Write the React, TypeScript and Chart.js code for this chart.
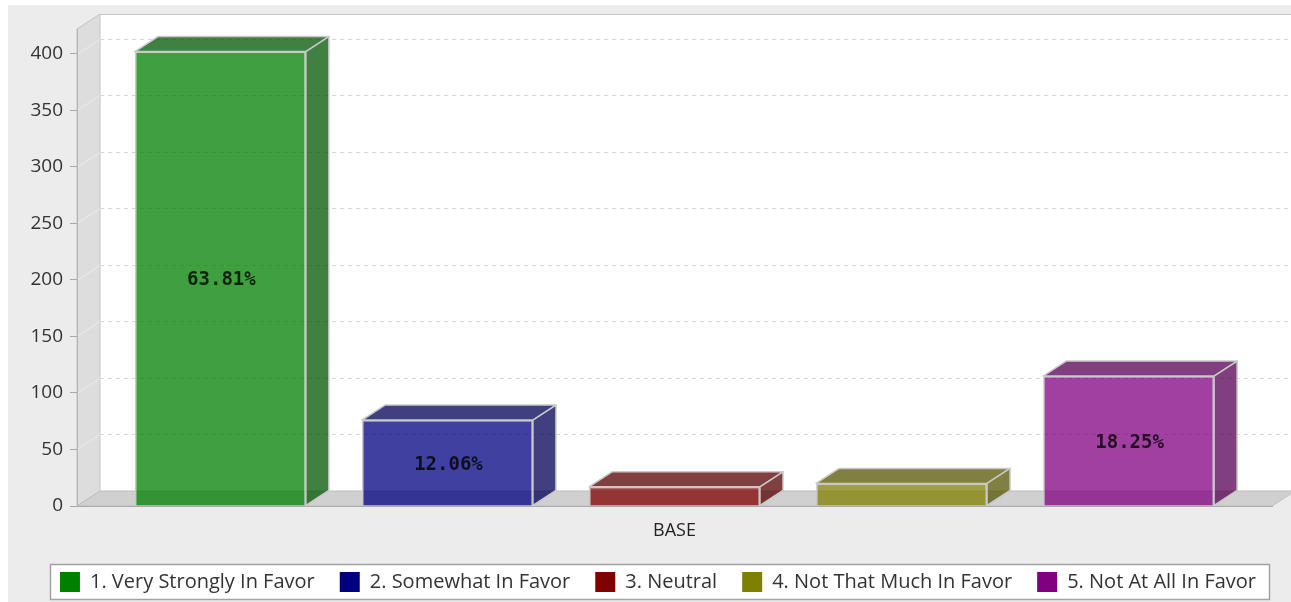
import { useEffect, useRef } from 'react';
import { Chart, registerables } from 'chart.js';

Chart.register(...registerables);

// Survey answers for the single "BASE" group
const categories = ['BASE'];
const seriesNames = [
  '1. Very Strongly In Favor',
  '2. Somewhat In Favor',
  '3. Neutral',
  '4. Not That Much In Favor',
  '5. Not At All In Favor',
];
const seriesValues = [402, 76, 17, 20, 115];
const seriesColors = [
  [0, 128, 0],
  [0, 0, 128],
  [128, 0, 0],
  [128, 128, 0],
  [128, 0, 128],
];
const yTickValues = [0, 50, 100, 150, 200, 250, 300, 350, 400];
const yMax = 422;

// Depth of the pseudo-3D extrusion (pixels)
const DX = 23;
const DY = 15;
const FACE_ALPHA = 0.75;
const EDGE = '#c9c9c9';
// horizontal nudge of the legend row relative to the full canvas width
const LEGEND_SHIFT = 18;

const total = seriesValues.reduce((a, b) => a + b, 0);

const rgba = (c: number[], a: number, k = 1) =>
  `rgba(${Math.round(c[0] * k)},${Math.round(c[1] * k)},${Math.round(c[2] * k)},${a})`;

const threeD = {
  id: 'threeD',
  afterLayout(chart: any) {
    const lg = chart.legend;
    if (lg) {
      lg.left += LEGEND_SHIFT;
      lg.right += LEGEND_SHIFT;
    }
  },
  beforeDraw(chart: any) {
    const { ctx, chartArea } = chart;
    const { left, right, top, bottom } = chartArea;
    const yScale = chart.scales.y;
    ctx.save();

    // back wall
    ctx.fillStyle = '#ffffff';
    ctx.fillRect(left + DX, top - DY, right - left, bottom - top);
    ctx.strokeStyle = '#c6c6c6';
    ctx.lineWidth = 1;
    ctx.beginPath();
    ctx.moveTo(left + DX, top - DY + 0.5);
    ctx.lineTo(right + DX, top - DY + 0.5);
    ctx.stroke();

    // left wall
    ctx.fillStyle = '#dddddd';
    ctx.beginPath();
    ctx.moveTo(left, top);
    ctx.lineTo(left + DX, top - DY);
    ctx.lineTo(left + DX, bottom - DY);
    ctx.lineTo(left, bottom);
    ctx.closePath();
    ctx.fill();
    ctx.strokeStyle = '#c4c4c4';
    ctx.stroke();

    // grid lines on the back wall and the left wall
    for (const v of yTickValues) {
      if (v === 0) continue;
      const py = Math.round(yScale.getPixelForValue(v)) + 0.5;
      ctx.setLineDash([4, 4]);
      ctx.strokeStyle = '#d6d6d6';
      ctx.beginPath();
      ctx.moveTo(left + DX, py - DY);
      ctx.lineTo(right + DX, py - DY);
      ctx.stroke();
      ctx.setLineDash([]);
      ctx.strokeStyle = '#ececec';
      ctx.beginPath();
      ctx.moveTo(left, py);
      ctx.lineTo(left + DX, py - DY);
      ctx.stroke();
    }

    // floor
    ctx.fillStyle = '#d0d0d0';
    ctx.strokeStyle = '#bdbdbd';
    ctx.beginPath();
    ctx.moveTo(left, bottom);
    ctx.lineTo(right, bottom);
    ctx.lineTo(right + DX, bottom - DY);
    ctx.lineTo(left + DX, bottom - DY);
    ctx.closePath();
    ctx.fill();
    ctx.stroke();

    // legend frame
    const hb = chart.legend && chart.legend.legendHitBoxes;
    if (hb && hb.length) {
      const first = hb[0];
      const last = hb[hb.length - 1];
      const cy = first.top + first.height / 2;
      const x0 = Math.round(first.left - 10) + 0.5;
      const x1 = Math.round(last.left + last.width + 13) + 0.5;
      const y0 = Math.round(cy - 18) + 0.5;
      const y1 = Math.round(cy + 17) + 0.5;
      ctx.fillStyle = '#ffffff';
      ctx.fillRect(x0, y0, x1 - x0, y1 - y0);
      ctx.strokeStyle = '#a2a2a2';
      ctx.lineWidth = 1.5;
      ctx.strokeRect(x0, y0, x1 - x0, y1 - y0);
    }
    ctx.restore();
  },
  afterDatasetsDraw(chart: any) {
    const { ctx } = chart;
    ctx.save();
    chart.data.datasets.forEach((ds: any, i: number) => {
      const meta = chart.getDatasetMeta(i);
      meta.data.forEach((bar: any, j: number) => {
        const { x, y, base, width } = bar.getProps(['x', 'y', 'base', 'width'], true);
        const l = x - width / 2;
        const r = x + width / 2;
        const c = seriesColors[i];
        ctx.lineWidth = 1.5;
        ctx.strokeStyle = EDGE;
        ctx.lineJoin = 'round';
        // top face
        ctx.fillStyle = rgba(c, FACE_ALPHA, 2 / 3);
        ctx.beginPath();
        ctx.moveTo(l, y);
        ctx.lineTo(l + DX, y - DY);
        ctx.lineTo(r + DX, y - DY);
        ctx.lineTo(r, y);
        ctx.closePath();
        ctx.fill();
        ctx.stroke();
        // side face
        ctx.beginPath();
        ctx.moveTo(r, y);
        ctx.lineTo(r + DX, y - DY);
        ctx.lineTo(r + DX, base - DY);
        ctx.lineTo(r, base);
        ctx.closePath();
        ctx.fill();
        ctx.stroke();

        // percentage label
        const v = ds.data[j];
        if (base - y >= 40) {
          const pct = ((v / total) * 100).toFixed(2) + '%';
          ctx.font = 'bold 19px "DejaVu Sans Mono", "Liberation Mono", monospace';
          ctx.fillStyle = 'rgba(0,0,0,0.78)';
          ctx.textAlign = 'center';
          ctx.textBaseline = 'middle';
          ctx.fillText(pct, x + 1, (y + base) / 2 + 2);
        }
      });
    });
    ctx.restore();
  },
};

export default function App() {
  const canvasRef = useRef<HTMLCanvasElement | null>(null);

  useEffect(() => {
    const canvas = canvasRef.current;
    if (!canvas) return;
    Chart.defaults.font.family = '"Open Sans", "Noto Sans", sans-serif';
    const chart = new Chart(canvas, {
      type: 'bar',
      data: {
        labels: categories,
        datasets: seriesNames.map((name, i) => ({
          label: name,
          data: [seriesValues[i]],
          backgroundColor: rgba(seriesColors[i], FACE_ALPHA),
          borderColor: EDGE,
          borderWidth: 1.5,
          categoryPercentage: 0.95,
          barPercentage: 0.753,
        })),
      },
      options: {
        responsive: false,
        animation: false,
        layout: { padding: { top: 24, right: 19, left: 0, bottom: 0 } },
        scales: {
          x: {
            grid: { display: false },
            border: { display: true, color: '#ababab', width: 1 },
            ticks: { color: '#222', font: { size: 18 }, padding: 6 },
            afterFit: (scale: any) => {
              scale.height = 41;
            },
          },
          y: {
            min: 0,
            max: yMax,
            afterBuildTicks: (scale: any) => {
              scale.ticks = yTickValues.map((v) => ({ value: v }));
            },
            grid: {
              display: true,
              drawOnChartArea: false,
              drawTicks: true,
              tickLength: 7,
              color: '#a8a8a8',
            },
            border: { display: true, color: '#b4b4b4', width: 1 },
            ticks: { color: '#333', font: { size: 19 }, padding: 7 },
            afterFit: (scale: any) => {
              scale.width = 69;
            },
          },
        },
        plugins: {
          legend: {
            position: 'bottom',
            labels: {
              boxWidth: 20,
              boxHeight: 20,
              padding: 25,
              color: '#333',
              font: { size: 20 },
              generateLabels: (ch: any) =>
                Chart.defaults.plugins.legend.labels
                  .generateLabels(ch)
                  .map((item: any, i: number) => ({
                    ...item,
                    fillStyle: rgba(seriesColors[i], 1),
                    strokeStyle: rgba(seriesColors[i], 1),
                    lineWidth: 0,
                  })),
            },
          },
          tooltip: { enabled: false },
        },
      },
      plugins: [threeD],
    });
    return () => chart.destroy();
  }, []);

  return (
    <div
      style={{
        position: 'fixed',
        left: 8,
        top: 5,
        width: 1283,
        height: 597,
        background: '#ececec',
      }}
    >
      <canvas ref={canvasRef} width={1283} height={597} style={{ display: 'block' }} />
    </div>
  );
}
